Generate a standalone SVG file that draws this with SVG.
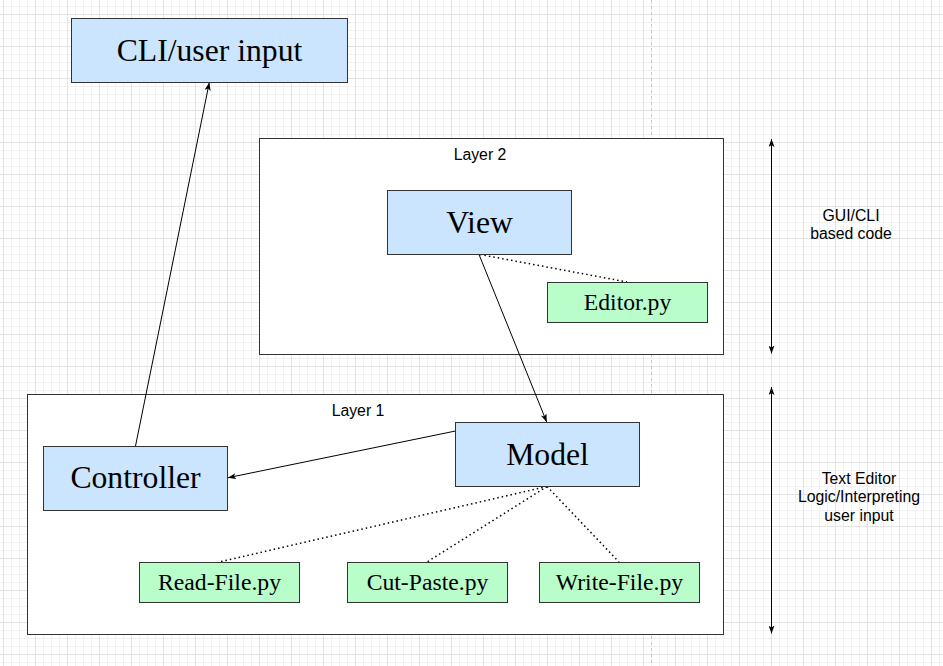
<svg xmlns="http://www.w3.org/2000/svg" width="943" height="666" viewBox="0 0 943 666">
<style>
.box{stroke:#333;stroke-width:1}
.blue{fill:#cce5ff}
.green{fill:#b9fdcb}
.layer{fill:#fff;stroke:#333;stroke-width:1}
.big{font-family:"Liberation Serif","Times New Roman",serif;font-size:31.7px;fill:#000;text-anchor:middle}
.small{font-family:"Liberation Serif","Times New Roman",serif;font-size:23.7px;fill:#000;text-anchor:middle}
.sans{font-family:"Liberation Sans",Arial,Helvetica,sans-serif;font-size:15.8px;fill:#000;text-anchor:middle}
.edge{fill:none;stroke:#000;stroke-width:1}
.dot{fill:none;stroke:#000;stroke-width:1.5;stroke-dasharray:1.5 3}
</style>
<defs>
<pattern id="grid" patternUnits="userSpaceOnUse" x="3" y="14" width="32" height="32">
<path d="M8.5,0V32M16.5,0V32M24.5,0V32M0,8.5H32M0,16.5H32M0,24.5H32" stroke="#f1f1f1" stroke-width="1" fill="none"/>
<path d="M0.5,0V32M0,0.5H32" stroke="#e3e3e3" stroke-width="1" fill="none"/>
</pattern>
<marker id="arr" viewBox="0 0 8 6" refX="8" refY="3" markerWidth="8" markerHeight="6" markerUnits="userSpaceOnUse" orient="auto-start-reverse">
<path d="M0,0 L8,3 L0,6 L2,3 Z" fill="#000"/>
</marker>
</defs>
<rect width="943" height="666" fill="#fff"/>
<rect width="943" height="666" fill="url(#grid)"/>
<line x1="651.5" y1="0" x2="651.5" y2="666" stroke="#c8c8c8" stroke-width="1" stroke-dasharray="3 3"/>

<g id="layer2">
<rect class="layer" x="259.5" y="138.5" width="464" height="216"/>
<text class="sans" x="480" y="160">Layer 2</text>
</g>
<g id="layer1">
<rect class="layer" x="27.5" y="394.5" width="696" height="240"/>
<text class="sans" x="358" y="416">Layer 1</text>
</g>

<g id="connectors">
<line class="edge" x1="135.5" y1="446" x2="209.3" y2="82.5" marker-end="url(#arr)"/>
<line class="edge" x1="479" y1="254.5" x2="546.7" y2="422" marker-end="url(#arr)"/>
<line class="edge" x1="455.5" y1="431" x2="228" y2="477.7" marker-end="url(#arr)"/>
<line class="dot" x1="480" y1="254.5" x2="627" y2="282"/>
<line class="dot" x1="547" y1="486.5" x2="219" y2="562"/>
<line class="dot" x1="547" y1="486.5" x2="427" y2="562"/>
<line class="dot" x1="547" y1="486.5" x2="619" y2="562"/>
<line class="edge" x1="771.5" y1="139" x2="771.5" y2="353.5" marker-start="url(#arr)" marker-end="url(#arr)"/>
<line class="edge" x1="771.5" y1="387" x2="771.5" y2="633.5" marker-start="url(#arr)" marker-end="url(#arr)"/>
</g>

<g id="cli">
<rect class="box blue" x="71.5" y="18.5" width="276" height="64"/>
<text class="big" x="209.5" y="60.5">CLI/user input</text>
</g>
<g id="view">
<rect class="box blue" x="387.5" y="190.5" width="184" height="64"/>
<text class="big" x="479.5" y="232.5">View</text>
</g>
<g id="editor">
<rect class="box green" x="547.5" y="282.5" width="160" height="40"/>
<text class="small" x="627.5" y="310">Editor.py</text>
</g>
<g id="model">
<rect class="box blue" x="455.5" y="422.5" width="184" height="64"/>
<text class="big" x="547.5" y="464.5">Model</text>
</g>
<g id="controller">
<rect class="box blue" x="43.5" y="446.5" width="184" height="64"/>
<text class="big" x="135.5" y="488">Controller</text>
</g>
<g id="readfile">
<rect class="box green" x="139.5" y="562.5" width="160" height="40"/>
<text class="small" x="219.5" y="590">Read-File.py</text>
</g>
<g id="cutpaste">
<rect class="box green" x="347.5" y="562.5" width="160" height="40"/>
<text class="small" x="427.5" y="590">Cut-Paste.py</text>
</g>
<g id="writefile">
<rect class="box green" x="539.5" y="562.5" width="160" height="40"/>
<text class="small" x="619.5" y="590">Write-File.py</text>
</g>

<g id="label-gui">
<text class="sans" x="851" y="220.5">GUI/CLI</text>
<text class="sans" x="851" y="239">based code</text>
</g>
<g id="label-logic">
<text class="sans" x="859" y="483.5">Text Editor</text>
<text class="sans" x="859" y="502">Logic/Interpreting</text>
<text class="sans" x="859" y="520.5">user input</text>
</g>
</svg>
